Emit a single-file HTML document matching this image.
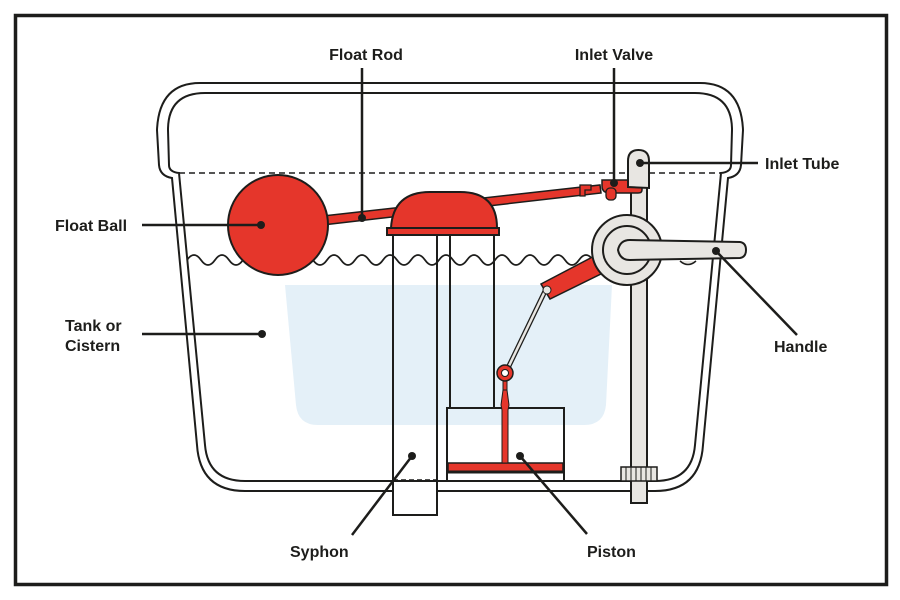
<!DOCTYPE html>
<html><head><meta charset="utf-8"><style>
html,body{margin:0;padding:0;background:#fff;}
svg{display:block;}
text{font-family:"Liberation Sans",sans-serif;font-weight:bold;font-size:16px;fill:#1d1d1b;}
</style></head><body>
<svg width="900" height="600" viewBox="0 0 900 600" xmlns="http://www.w3.org/2000/svg">
<rect x="15.5" y="15.5" width="871" height="569" fill="#fff" stroke="#1d1d1b" stroke-width="3.5"/>
<!-- water -->
<path d="M285 285 H612 L606 405 Q604 425 584 425 H318 Q298 425 296 405 Z" fill="#e4f0f8"/>
<!-- tank -->
<g fill="none" stroke="#1d1d1b" stroke-width="2">
<path d="M200 83 H700 Q741 83 743 130 L741 165 Q740 176 728 178 L703 445 Q700 491 655 491 H245 Q200 491 197 445 L172 178 Q160 176 159 165 L157 130 Q159 83 200 83 Z"/>
<path d="M205 93 H695 Q732 93 732 130 L731 165 Q731 172 721 173 L695 445 Q692 481 655 481 H245 Q208 481 205 445 L179 173 Q169 172 169 165 L168 130 Q168 93 205 93 Z"/>
<line x1="179" y1="173" x2="721" y2="173" stroke-dasharray="6,4" stroke-width="1.5"/>
<path d="M187 260 q7 -10 14 0 t14 0 t14 0 t14 0 t14 0 t14 0 t14 0 t14 0 t14 0 t14 0 t14 0 t14 0 t14 0 t14 0 t14 0 t14 0 t14 0 t14 0 t14 0 t14 0 t14 0 t14 0 t14 0 t14 0 t14 0 t14 0 t14 0 t14 0 t14 0 t14 0" stroke-width="1.8"/>
</g>
<!-- syphon tube -->
<rect x="393" y="232" width="44" height="283" fill="none" stroke="#1d1d1b" stroke-width="2"/>
<rect x="394" y="482" width="42" height="32" fill="#fff"/>
<line x1="393" y1="480" x2="437" y2="480" stroke="#1d1d1b" stroke-width="1.5" stroke-dasharray="5,3"/>
<line x1="450" y1="232" x2="450" y2="408" stroke="#1d1d1b" stroke-width="2"/>
<line x1="494" y1="232" x2="494" y2="408" stroke="#1d1d1b" stroke-width="2"/>
<!-- piston box -->
<rect x="447" y="408" width="117" height="73" fill="none" stroke="#1d1d1b" stroke-width="2"/>
<rect x="448" y="463" width="115" height="9" fill="#e5362b" stroke="#1d1d1b" stroke-width="1.5"/>
<line x1="448" y1="472" x2="563" y2="472" stroke="#1d1d1b" stroke-width="3"/>
<path d="M502 463 V410 L501 405 L503 390 H507 L509 405 L508 410 V463 Z" fill="#e5362b" stroke="#1d1d1b" stroke-width="1"/>
<rect x="503" y="380" width="4" height="10" fill="#e5362b" stroke="#1d1d1b" stroke-width="1"/>
<!-- rod -->
<line x1="547" y1="287" x2="506" y2="372" stroke="#1d1d1b" stroke-width="5"/>
<line x1="547" y1="287" x2="506" y2="372" stroke="#e8e6e2" stroke-width="2.5"/>
<circle cx="505" cy="373" r="8" fill="#e5362b" stroke="#1d1d1b" stroke-width="1.5"/>
<circle cx="505" cy="373" r="3.5" fill="#fff" stroke="#1d1d1b" stroke-width="1"/>
<!-- red lever -->
<path d="M541 284 L602 252 L611 269 L550 299 Z" fill="#e5362b" stroke="#1d1d1b" stroke-width="1.5"/>
<circle cx="547" cy="290" r="4" fill="#e8e6e2" stroke="#1d1d1b" stroke-width="1"/>
<!-- inlet column -->
<rect x="631" y="180" width="16" height="323" fill="#e8e6e2" stroke="#1d1d1b" stroke-width="2"/>
<rect x="621" y="467" width="36" height="14" fill="#e8e6e2" stroke="#1d1d1b" stroke-width="1.5"/>
<g stroke="#1d1d1b" stroke-width="1"><line x1="626" y1="467" x2="626" y2="481"/><line x1="631" y1="467" x2="631" y2="481"/><line x1="636" y1="467" x2="636" y2="481"/><line x1="641" y1="467" x2="641" y2="481"/><line x1="646" y1="467" x2="646" y2="481"/><line x1="651" y1="467" x2="651" y2="481"/></g>
<!-- float rod -->
<path d="M305 218 L600 185 L601 193 L305 227 Z" fill="#e5362b" stroke="#1d1d1b" stroke-width="1.5"/>
<path d="M580 185 H591 V190 H585 V196 H580 Z" fill="#e5362b" stroke="#1d1d1b" stroke-width="1.3"/>
<path d="M602 180 H642 V190 Q642 193 638 193 H610 Q602 193 602 186 Z" fill="#e5362b" stroke="#1d1d1b" stroke-width="1.5"/>
<rect x="606" y="188" width="10" height="12" rx="4" fill="#e5362b" stroke="#1d1d1b" stroke-width="1.3"/>
<path d="M628 187 V161 Q628 150 638.5 150 Q649 150 649 161 V188 Z" fill="#e8e6e2" stroke="#1d1d1b" stroke-width="2"/>
<!-- float ball -->
<circle cx="278" cy="225" r="50" fill="#e5362b" stroke="#1d1d1b" stroke-width="2"/>
<!-- dome -->
<path d="M391 228 Q393 192 430 192 H460 Q497 192 497 228 Z" fill="#e5362b" stroke="#1d1d1b" stroke-width="2"/>
<rect x="387" y="228" width="112" height="7" fill="#e5362b" stroke="#1d1d1b" stroke-width="2"/>
<!-- handle -->
<circle cx="627" cy="250" r="35" fill="#e8e6e2" stroke="#1d1d1b" stroke-width="2"/>
<circle cx="627" cy="250" r="24" fill="#e8e6e2" stroke="#1d1d1b" stroke-width="2"/>
<path d="M680 261 Q688 268 696 261" fill="#e8e6e2" stroke="#1d1d1b" stroke-width="1.5"/>
<path d="M630 260 Q620 260 618 250 Q620 240 630 240 L740 242 Q746 243 746 250 Q746 257 740 258 Z" fill="#e8e6e2" stroke="#1d1d1b" stroke-width="2"/>
<!-- callouts -->
<g stroke="#1d1d1b" stroke-width="2.5" fill="none">
<line x1="362" y1="68" x2="362" y2="218"/>
<line x1="614" y1="68" x2="614" y2="183"/>
<line x1="640" y1="163" x2="758" y2="163"/>
<line x1="142" y1="225" x2="261" y2="225"/>
<line x1="142" y1="334" x2="262" y2="334"/>
<line x1="716" y1="251" x2="797" y2="335"/>
<line x1="352" y1="535" x2="412" y2="456"/>
<line x1="520" y1="456" x2="587" y2="534"/>
</g>
<g fill="#1d1d1b">
<circle cx="362" cy="218" r="4"/><circle cx="614" cy="183" r="4"/><circle cx="640" cy="163" r="4"/>
<circle cx="261" cy="225" r="4"/><circle cx="262" cy="334" r="4"/><circle cx="716" cy="251" r="4"/>
<circle cx="412" cy="456" r="4"/><circle cx="520" cy="456" r="4"/>
</g>
<text x="366" y="60" text-anchor="middle">Float Rod</text>
<text x="614" y="60" text-anchor="middle">Inlet Valve</text>
<text x="765" y="169">Inlet Tube</text>
<text x="55" y="231">Float Ball</text>
<text x="65" y="331">Tank or</text>
<text x="65" y="351">Cistern</text>
<text x="774" y="352">Handle</text>
<text x="290" y="557">Syphon</text>
<text x="587" y="557">Piston</text>
</svg>
</body></html>
